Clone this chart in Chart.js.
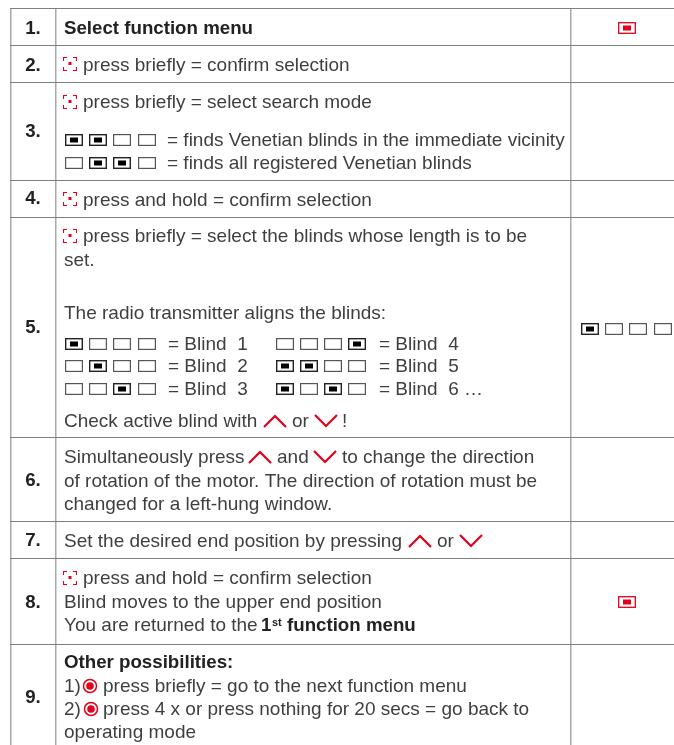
<!DOCTYPE html>
<html><head><meta charset="utf-8">
<style>html,body{margin:0;padding:0;background:#fff}canvas{display:block}</style>
<script src="https://cdn.jsdelivr.net/npm/chart.js@4"></script>
</head><body><canvas id="c" width="674" height="745"></canvas>
<script>
const colEdges = [10.5, 56, 570.5];
const rowEdges = [8.5, 45.5, 82.5, 180.5, 217.5, 437.5, 521.5, 558.5, 644.5];
const stepLabels = [["1.",34],["2.",71],["3.",137],["4.",204],["5.",333],["6.",486],["7.",546],["8.",608],["9.",703]];
const headings = [["Select function menu",64,34],["Other possibilities:",64,668]];
const bodyLines = [
 ["press briefly = confirm selection",83,71],
 ["press briefly = select search mode",83,108],
 ["= finds Venetian blinds in the immediate vicinity",167,146],
 ["= finds all registered Venetian blinds",167,169],
 ["press and hold = confirm selection",83,206],
 ["press briefly = select the blinds whose length is to be",83,242],
 ["set.",64,266],
 ["The radio transmitter aligns the blinds:",64,319],
 ["= Blind  1",168,350],["= Blind  2",168,372],["= Blind  3",168,395],
 ["= Blind  4",379,350],["= Blind  5",379,372],["= Blind  6 …",379,395],
 ["Check active blind with",64,427],["or",292,427],["!",342,427],
 ["Simultaneously press",64,463],["and",277,463],["to change the direction",342,463],
 ["of rotation of the motor. The direction of rotation must be",64,487],
 ["changed for a left-hung window.",64,510],
 ["Set the desired end position by pressing",64,547],["or",437,547],
 ["press and hold = confirm selection",83,584],
 ["Blind moves to the upper end position",64,608],
 ["You are returned to the",64,631],
 ["1)",64,692],["press briefly = go to the next function menu",103,692],
 ["2)",64,715],["press 4 x or press nothing for 20 secs = go back to",103,715],
 ["operating mode",64,738]
];
const boldInline = [["1",261,631],["function menu",287,631]];
const superscripts = [["st",272,626]];
const filledBoxes = [[74,140],[98,140],[98,163],[122,163],[74,344],[98,366],[122,389],[357,344],[285,366],[309,366],[285,389],[333,389],[590,329]];
const emptyBoxes = [[122,140],[147,140],[74,163],[147,163],[98,344],[122,344],[147,344],[74,366],[122,366],[147,366],[74,389],[98,389],[147,389],[285,344],[309,344],[333,344],[333,366],[357,366],[309,389],[357,389],[614,329],[638,329],[663,329]];
const redBoxes = [[627,28],[627,602]];
const selectIcons = [[70,64],[70,102],[70,199],[70,236],[70,578]];
const upChevrons = [[275,421],[260,457],[420,541]];
const downChevrons = [[326,421],[325,457],[471,541]];
const redDots = [[90,686],[91,709]];

function sprite(w,h,draw){const c=document.createElement('canvas');c.width=w;c.height=h;draw(c.getContext('2d'));return c;}
const boxFilled = sprite(18,12,g=>{g.strokeStyle='#222';g.lineWidth=1.4;g.strokeRect(.7,.7,16.6,10.6);g.fillStyle='#000';g.fillRect(5,3.5,8,5);});
const boxEmpty = sprite(18,12,g=>{g.strokeStyle='#555';g.lineWidth=1.2;g.strokeRect(.6,.6,16.8,10.8);});
const boxRed = sprite(18,12,g=>{g.strokeStyle='#e2001a';g.lineWidth=1.3;g.strokeRect(.7,.7,16.6,10.6);g.fillStyle='#e2001a';g.fillRect(5,3.5,8,5);});
const selIcon = sprite(14,14,g=>{g.strokeStyle='#e2001a';g.lineWidth=1.1;g.beginPath();
 [[.5,4,.5,.5,4,.5],[10,.5,13.5,.5,13.5,4],[.5,10,.5,13.5,4,13.5],[10,13.5,13.5,13.5,13.5,10]].forEach(p=>{g.moveTo(p[0],p[1]);g.lineTo(p[2],p[3]);g.lineTo(p[4],p[5]);});g.stroke();
 g.fillStyle='#e2001a';g.fillRect(5.5,5,3,3);});
const chev = up => sprite(24,14,g=>{g.strokeStyle='#e2001a';g.lineWidth=2.2;g.beginPath();
 if(up){g.moveTo(1,13);g.lineTo(12,2);g.lineTo(23,13);}else{g.moveTo(1,1);g.lineTo(12,12);g.lineTo(23,1);}g.stroke();});
const dot = sprite(16,16,g=>{g.strokeStyle='#e2001a';g.lineWidth=1.5;g.beginPath();g.arc(8,8,6.5,0,7);g.stroke();g.fillStyle='#e2001a';g.beginPath();g.arc(8,8,3.8,0,7);g.fill();});

const pts = a => a.map(p=>({x:p[0],y:p[1]}));
const marks = (a,s) => ({data:pts(a),pointStyle:s,pointRadius:10,showLine:false,clip:false});
const txt = a => a.map(p=>({text:p[0],x:p[1],y:p[2]}));
const BODY='19px "Liberation Sans"', BOLD='bold 18.7px "Liberation Sans"', SUP='bold 11px "Liberation Sans"';
const textSet = (a,font,color,align) => ({data:txt(a),font,color,align,isText:true,pointRadius:0,showLine:false,clip:false});

const textPlugin = {id:'textPlugin',afterDatasetsDraw(chart){
 const g=chart.ctx;
 chart.data.datasets.forEach((d,i)=>{ if(!d.isText) return;
  const els=chart.getDatasetMeta(i).data;
  g.save();g.font=d.font;g.fillStyle=d.color;g.textAlign=d.align||'left';g.textBaseline='alphabetic';
  d.data.forEach((r,j)=>g.fillText(r.text,els[j].x,els[j].y));
  g.restore();});
}};
const edgeAxis = (edges,color,width,reverse,min,max) => ({type:'linear',min,max,reverse,display:true,
 afterBuildTicks(s){s.ticks=edges.map(v=>({value:v}));},
 ticks:{display:false},border:{display:false},
 grid:{color,lineWidth:width,drawTicks:false}});

new Chart(document.getElementById('c'),{type:'scatter',plugins:[textPlugin],
 data:{datasets:[
  marks(filledBoxes,boxFilled),marks(emptyBoxes,boxEmpty),marks(redBoxes,boxRed),marks(selectIcons,selIcon),
  marks(upChevrons,chev(true)),marks(downChevrons,chev(false)),marks(redDots,dot),
  textSet(stepLabels.map(s=>[s[0],33,s[1]]),BOLD,'#222','center'),
  textSet(headings,BOLD,'#222'),
  textSet(bodyLines,BODY,'#3f3f3f'),
  textSet(boldInline,BOLD,'#222'),
  textSet(superscripts,SUP,'#222')
 ]},
 options:{responsive:false,animation:false,events:[],
  layout:{padding:{left:10,top:8,right:0,bottom:0},autoPadding:false},
  plugins:{legend:{display:false},tooltip:{enabled:false},title:{display:false}},
  scales:{x:edgeAxis(colEdges,'#aaaaaa',1.5,false,10,674),y:edgeAxis(rowEdges,'#808080',1,true,8,745)}
 }});
</script></body></html>
